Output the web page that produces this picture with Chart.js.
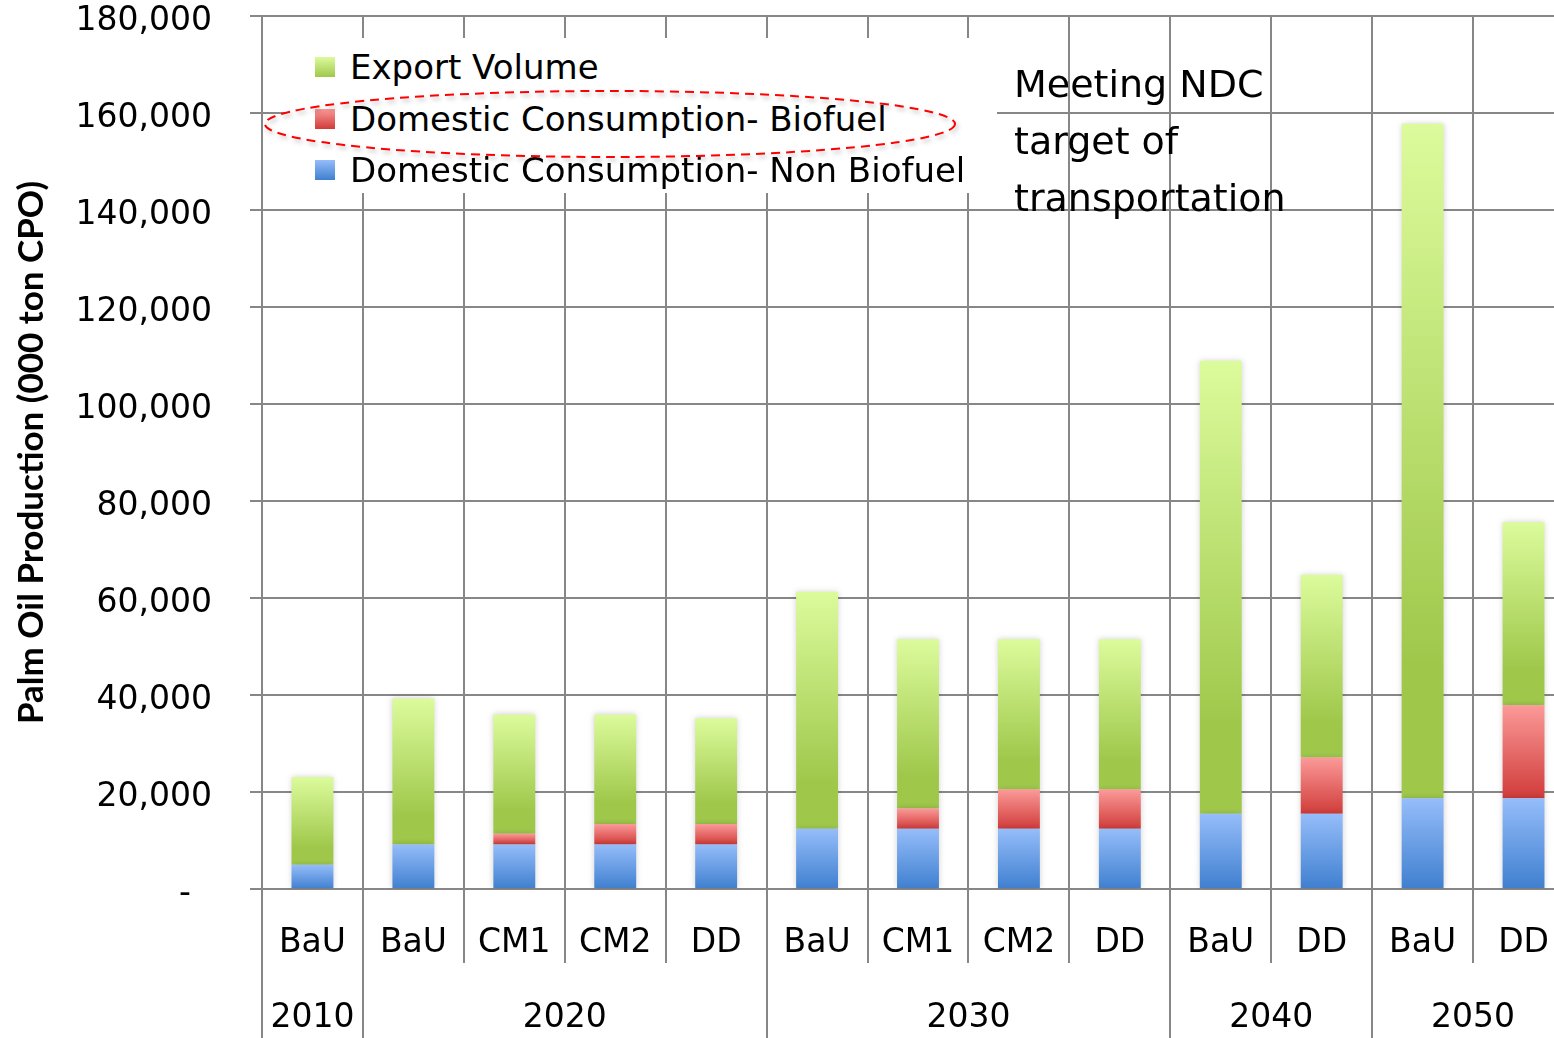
<!DOCTYPE html>
<html>
<head>
<meta charset="utf-8">
<script src="https://cdn.jsdelivr.net/npm/chart.js@4.4.1/dist/chart.umd.min.js"></script>
<style>
  html, body { margin: 0; padding: 0; background: #fff; overflow: hidden; }
  #wrap { position: absolute; left: 0; top: 0; width: 1574px; height: 1038px; }
  #legend { position: absolute; left: 285px; top: 38px; width: 712px; height: 155px; background: #fff;
            font-family: 'DejaVu Sans', sans-serif; font-size: 34px; color: #000; }
  .row { position: absolute; left: 0; height: 52px; line-height: 52px; white-space: nowrap; }
  .box { position: absolute; left: 30px; top: 16px; width: 20px; height: 20px; }
  .lbl { position: absolute; left: 65px; top: 0; }
  #note { position: absolute; left: 1014px; top: 56px; font-family: 'DejaVu Sans', sans-serif;
          font-size: 38px; line-height: 57px; color: #000; white-space: nowrap; }
  #ring { position: absolute; left: 0; top: 0; pointer-events: none; }
</style>
</head>
<body>
<div id="wrap"><canvas id="chart"></canvas></div>
<div id="legend">
  <div class="row" style="top:3px"><div class="box" style="background:linear-gradient(#dcfb9c,#9fc84b)"></div><span class="lbl">Export Volume</span></div>
  <div class="row" style="top:55px"><div class="box" style="background:linear-gradient(#fb9a98,#d03c3a)"></div><span class="lbl">Domestic Consumption- Biofuel</span></div>
  <div class="row" style="top:106px"><div class="box" style="background:linear-gradient(#95bdfa,#3f7fcf)"></div><span class="lbl">Domestic Consumption- Non Biofuel</span></div>
</div>
<div id="note">Meeting NDC<br>target of<br>transportation</div>
<svg id="ring" width="1554" height="1038" style="filter: drop-shadow(2px 3px 2px rgba(0,0,0,0.25))">
  <ellipse cx="610" cy="124" rx="345" ry="33" fill="none" stroke="#ff0000" stroke-width="2" stroke-dasharray="9 6"/>
</svg>
<script>
// scenario labels under each bar
const scenarios = ['BaU', 'BaU', 'CM1', 'CM2', 'DD', 'BaU', 'CM1', 'CM2', 'DD', 'BaU', 'DD', 'BaU', 'DD'];
// year groups: label position (in category units) and group borders
const yearPos = [0.5, 3, 7, 10, 12];
const yearLabels = ['2010', '2020', '2030', '2040', '2050'];
const yearBorders = [0, 1, 5, 9, 11, 13];
const yTicks = [0, 20000, 40000, 60000, 80000, 100000, 120000, 140000, 160000, 180000];

// 000 ton CPO
const nonBiofuel = [5000, 9200, 9200, 9200, 9200, 12400, 12400, 12400, 12400, 15500, 15500, 18700, 18700];
const biofuel = [0, 0, 2200, 4200, 4200, 0, 4200, 8100, 8100, 0, 11600, 0, 19200];
const exportVolume = [18100, 30100, 24600, 22600, 21800, 48900, 34900, 31000, 31000, 93400, 37700, 139100, 37700];

const gridCol = '#878787';

// vertical gradient per bar segment
function grad(top, bottom, mid) {
  return (ctx) => {
    const chart = ctx.chart;
    if (!chart.chartArea || ctx.type !== 'data') return bottom;
    const ys = chart.scales.y;
    let base = 0;
    for (let d = 0; d < ctx.datasetIndex; d++) base += chart.data.datasets[d].data[ctx.dataIndex];
    const v = chart.data.datasets[ctx.datasetIndex].data[ctx.dataIndex];
    const y0 = ys.getPixelForValue(base + v);
    const y1 = ys.getPixelForValue(base);
    if (y1 - y0 < 1) return bottom;
    const g = chart.ctx.createLinearGradient(0, y0, 0, y1);
    g.addColorStop(0, top);
    if (mid) g.addColorStop(mid, bottom);
    g.addColorStop(1, bottom);
    return g;
  };
}

const barShadow = {
  id: 'barShadow',
  beforeDatasetsDraw(chart) {
    const c = chart.ctx;
    c.save();
    c.shadowColor = 'rgba(0,0,0,0.18)';
    c.shadowBlur = 6;
  },
  afterDatasetsDraw(chart) { chart.ctx.restore(); }
};

const tickFont = { family: 'DejaVu Sans', size: 33 };

new Chart('chart', {
  type: 'bar',
  data: {
    labels: scenarios,
    datasets: [
      { label: 'Domestic Consumption- Non Biofuel', data: nonBiofuel, backgroundColor: grad('#95bdfa', '#3f7fcf') },
      { label: 'Domestic Consumption- Biofuel', data: biofuel, backgroundColor: grad('#fb9a98', '#d03c3a') },
      { label: 'Export Volume', data: exportVolume, backgroundColor: grad('#dcfb9c', '#9fc84b', 0.8) }
    ].map(ds => Object.assign(ds, { xAxisID: 'x', yAxisID: 'y', barPercentage: 0.415, categoryPercentage: 1, borderWidth: 0 }))
  },
  options: {
    responsive: true,
    maintainAspectRatio: false,
    animation: false,
    devicePixelRatio: 1,
    layout: { padding: { top: 16, left: 0, right: 0, bottom: 0 } },
    plugins: { legend: { display: false }, tooltip: { enabled: false } },
    scales: {
      x: {
        stacked: true,
        weight: 0,
        grid: { offset: true, color: gridCol, lineWidth: 2, tickLength: 74 },
        border: { color: gridCol, width: 2 },
        ticks: { font: tickFont, color: '#000', padding: -39, autoSkip: false, maxRotation: 0 },
        afterFit: s => { s.height = 74; s.paddingLeft = 0; s.paddingRight = 0; }
      },
      x2: {
        type: 'linear',
        position: 'bottom',
        weight: 1,
        min: 0,
        max: 13,
        offset: false,
        afterBuildTicks: s => { s.ticks = yearBorders.concat(yearPos).sort((a, b) => a - b).map(v => ({ value: v })); },
        grid: {
          offset: false,
          drawOnChartArea: false,
          lineWidth: 2,
          tickLength: 75,
          color: c => (c.tick && yearBorders.includes(c.tick.value)) ? gridCol : 'rgba(0,0,0,0)'
        },
        border: { display: false },
        ticks: {
          font: tickFont, color: '#000', padding: -39, autoSkip: false, maxRotation: 0,
          callback: v => { const i = yearPos.indexOf(v); return i >= 0 ? yearLabels[i] : ''; }
        },
        afterFit: s => { s.height = 75; s.paddingLeft = 0; s.paddingRight = 0; }
      },
      y: {
        stacked: true,
        min: 0,
        max: 180000,
        afterBuildTicks: s => { s.ticks = yTicks.map(v => ({ value: v })); },
        grid: { color: gridCol, lineWidth: 2, tickLength: 12 },
        border: { color: gridCol, width: 2 },
        ticks: {
          font: tickFont, color: '#000', padding: 38, labelOffset: 5,
          callback: v => v === 0 ? '-  ' : v.toLocaleString('en-US')
        },
        title: {
          display: true,
          text: 'Palm Oil Production (000 ton CPO)',
          font: { family: 'Lato', size: 35, weight: 'bold' },
          color: '#000',
          padding: { top: 11, bottom: 0 }
        },
        afterFit: s => { s.width = 262; s.paddingTop = 0; s.paddingBottom = 0; }
      }
    }
  },
  plugins: [barShadow]
});
</script>
</body>
</html>
